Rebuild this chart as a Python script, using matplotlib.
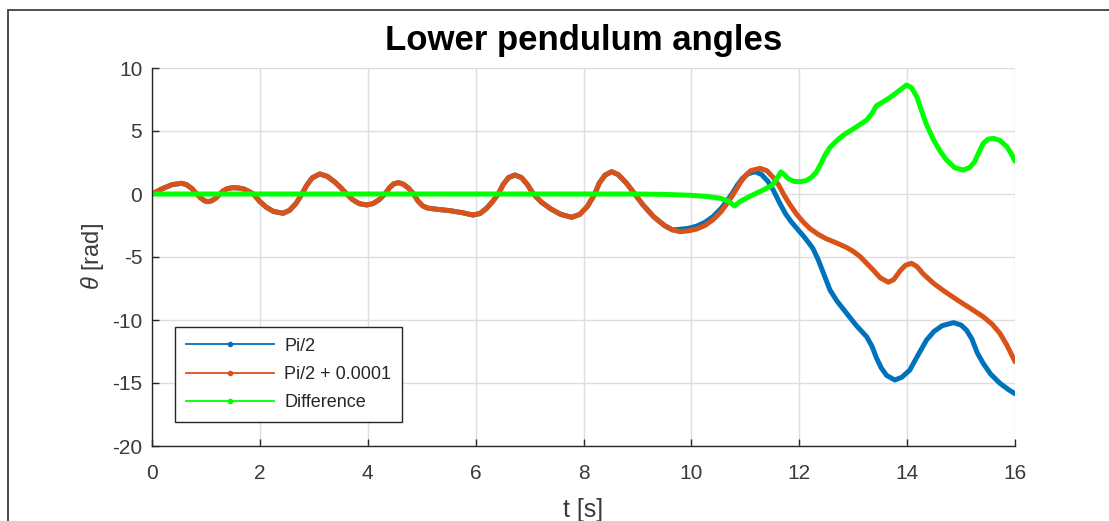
import matplotlib
matplotlib.use("Agg")
import matplotlib.pyplot as plt
from matplotlib.lines import Line2D
from matplotlib.patches import Rectangle

plt.rcParams['font.family'] = ['Liberation Sans', 'DejaVu Sans']
plt.rcParams['mathtext.fontset'] = 'custom'
plt.rcParams['mathtext.rm'] = 'Liberation Sans'
plt.rcParams['mathtext.it'] = 'Liberation Sans:italic'
plt.rcParams['axes.unicode_minus'] = False

# ---- data ----
# common part (both simulations identical until ~t=9.7 s)
t_common = [0.00, 0.18, 0.37, 0.55, 0.64, 0.74, 0.83,
            0.90, 0.97, 1.04, 1.11, 1.19, 1.26,
            1.32, 1.40, 1.50, 1.60, 1.70, 1.79, 1.88,
            2.00, 2.12, 2.25, 2.43, 2.55, 2.67, 2.78,
            2.87, 2.97, 3.11, 3.25, 3.39, 3.50, 3.61,
            3.72, 3.84, 3.98, 4.10, 4.21, 4.32,
            4.40, 4.48, 4.57, 4.66, 4.76, 4.85,
            4.93, 5.02, 5.12, 5.30, 5.52, 5.75, 5.95, 6.08, 6.20, 6.31, 6.42,
            6.51, 6.61, 6.73, 6.85, 6.96, 7.07,
            7.22, 7.40, 7.58, 7.78, 7.93, 8.07, 8.21,
            8.29, 8.40, 8.52, 8.64, 8.80, 8.95,
            9.10, 9.30, 9.50, 9.65]
theta_common = [0.00, 0.40, 0.74, 0.85, 0.74, 0.43, 0.00,
                -0.30, -0.53, -0.61, -0.53, -0.30, 0.00,
                0.25, 0.43, 0.50, 0.48, 0.40, 0.22, 0.00,
                -0.60, -1.05, -1.38, -1.53, -1.30, -0.75, 0.00,
                0.70, 1.28, 1.59, 1.40, 0.95, 0.50, 0.00,
                -0.45, -0.76, -0.87, -0.76, -0.45, 0.00,
                0.48, 0.80, 0.90, 0.78, 0.45, 0.00,
                -0.55, -0.95, -1.13, -1.22, -1.32, -1.48, -1.67, -1.55, -1.15, -0.62, 0.00,
                0.75, 1.30, 1.51, 1.30, 0.75, 0.00,
                -0.65, -1.20, -1.62, -1.85, -1.62, -1.00, 0.00,
                0.85, 1.50, 1.77, 1.55, 0.85, 0.00,
                -0.85, -1.80, -2.50, -2.85]

t_blue_end = [9.79, 9.95, 10.10, 10.25, 10.40, 10.55, 10.65, 10.75, 10.85, 10.95, 11.05,
              11.18, 11.30, 11.42, 11.52, 11.64, 11.75, 11.85, 11.95, 12.10, 12.25, 12.35,
              12.45, 12.57, 12.70, 12.88, 13.05, 13.25, 13.35, 13.43, 13.52, 13.62, 13.77,
              13.90, 14.05, 14.20, 14.36, 14.50, 14.65, 14.86, 15.00, 15.10, 15.20, 15.30,
              15.41, 15.55, 15.72, 15.87, 16.00]
theta_blue_end = [-2.80, -2.72, -2.55, -2.25, -1.80, -1.15, -0.60, 0.00, 0.70, 1.25, 1.60,
                  1.77, 1.55, 1.00, 0.30, -0.74, -1.60, -2.20, -2.70, -3.45, -4.30, -5.20,
                  -6.30, -7.62, -8.50, -9.47, -10.40, -11.33, -12.10, -13.00, -13.80, -14.40, -14.76,
                  -14.55, -13.97, -12.80, -11.59, -10.90, -10.45, -10.21, -10.40, -10.80, -11.50, -12.60,
                  -13.44, -14.30, -15.02, -15.50, -15.85]

t_orange_end = [9.79, 9.95, 10.10, 10.25, 10.40, 10.55, 10.68, 10.78, 10.90, 11.00, 11.10,
                11.27, 11.40, 11.52, 11.62, 11.72, 11.82, 11.95, 12.08, 12.20, 12.35, 12.50,
                12.70, 12.88, 13.00, 13.13, 13.25, 13.37, 13.50, 13.65, 13.75, 13.87, 13.97,
                14.08, 14.18, 14.30, 14.49, 14.70, 14.98, 15.20, 15.41, 15.58, 15.72, 15.85,
                16.00]
theta_orange_end = [-2.99, -2.92, -2.78, -2.50, -2.05, -1.40, -0.65, 0.00, 0.85, 1.45, 1.85,
                    2.04, 1.85, 1.30, 0.70, -0.10, -0.80, -1.60, -2.25, -2.75, -3.20, -3.55,
                    -3.90, -4.25, -4.55, -4.97, -5.50, -6.03, -6.65, -7.00, -6.80, -6.10, -5.65,
                    -5.50, -5.75, -6.35, -7.09, -7.75, -8.55, -9.15, -9.74, -10.35, -11.06, -12.00,
                    -13.30]

t_diff = [0.00, 9.00, 9.50, 9.97, 10.30, 10.55, 10.70, 10.80, 10.90, 11.10, 11.30, 11.50,
          11.58, 11.66, 11.72, 11.80, 11.90, 12.01, 12.12, 12.22, 12.32, 12.40, 12.48, 12.57,
          12.70, 12.82, 13.05, 13.25, 13.35, 13.43, 13.55, 13.68, 13.85, 13.99, 14.08, 14.18,
          14.26, 14.35, 14.49, 14.62, 14.73, 14.88, 15.04, 15.16, 15.25, 15.33, 15.41, 15.50,
          15.60, 15.72, 15.85, 15.93, 16.00]
theta_diff = [0.00, 0.00, -0.03, -0.10, -0.20, -0.35, -0.60, -0.95, -0.60, -0.15, 0.25, 0.70,
              1.20, 1.75, 1.55, 1.20, 1.00, 0.98, 1.05, 1.30, 1.75, 2.40, 3.10, 3.70,
              4.25, 4.68, 5.30, 5.87, 6.40, 7.00, 7.30, 7.65, 8.20, 8.65, 8.45, 7.72,
              6.70, 5.60, 4.29, 3.35, 2.70, 2.10, 1.90, 2.10, 2.55, 3.30, 4.02, 4.35,
              4.42, 4.25, 3.75, 3.20, 2.60]

series_labels = ['Pi/2', 'Pi/2 + 0.0001', 'Difference']
x_ticks = [0, 2, 4, 6, 8, 10, 12, 14, 16]
y_ticks = [-20, -15, -10, -5, 0, 5, 10]

t_blue = t_common + t_blue_end
theta_blue = theta_common + theta_blue_end
t_orange = t_common + t_orange_end
theta_orange = theta_common + theta_orange_end

# ---- figure ----
W, H = 1109, 521
fig = plt.figure(figsize=(W / 100, H / 100), dpi=100)
fig.patch.set_facecolor('white')

# outer frame
fig.patches.append(Rectangle((8 / W, -0.05), 1.1, (H - 10) / H + 0.05,
                             transform=fig.transFigure, fill=False,
                             edgecolor='#404040', linewidth=1.3, clip_on=False))

ax = fig.add_axes([152 / W, (H - 446) / H, (1015 - 152) / W, (446 - 68) / H])

c_blue = '#0072BD'
c_orange = '#D95319'
c_green = '#00FF00'
lw = 3.6
kw = dict(lw=lw, solid_capstyle='round', solid_joinstyle='round')
ax.plot(t_blue, theta_blue, color=c_blue, **kw)
ax.plot(t_orange, theta_orange, color=c_orange, **kw)
ax.plot(t_diff, theta_diff, color=c_green, **kw)

ax.set_xlim(0, 16)
ax.set_ylim(-20, 10)
ax.set_xticks(x_ticks)
ax.set_yticks(y_ticks)
ax.grid(True, color='#dedede', linewidth=1.0)
ax.set_axisbelow(True)

for s in ['top', 'right']:
    ax.spines[s].set_visible(False)
for s in ['left', 'bottom']:
    ax.spines[s].set_color('#262626')
    ax.spines[s].set_linewidth(1.0)

tick_col = '#3a3a3a'
ax.tick_params(direction='in', length=5, width=1.0, color='#262626',
               labelcolor=tick_col, labelsize=15)
ax.tick_params(axis='x', pad=13)
ax.tick_params(axis='y', pad=7)

ax.set_title('Lower pendulum angles', fontsize=25, fontweight='bold', pad=13, color='black')
ax.set_xlabel('t [s]', fontsize=18, color=tick_col, labelpad=11)
ax.set_ylabel(r'$\theta$ [rad]', fontsize=17, color=tick_col, labelpad=4)

handles = [Line2D([0], [0], color=c, lw=1.3, marker='.', markersize=6)
           for c in (c_blue, c_orange, c_green)]
leg = ax.legend(handles, series_labels, loc='lower left',
                bbox_to_anchor=((175 - 152) / 863, (446 - 422) / 378),
                borderaxespad=0, fancybox=False, framealpha=1, edgecolor='#262626',
                fontsize=13, handlelength=4.9, handletextpad=0.55, labelspacing=0.62,
                borderpad=0.6)
leg.get_frame().set_linewidth(1.0)
for txt in leg.get_texts():
    txt.set_color('#262626')

fig.savefig('out.png', dpi=100, facecolor='white')
